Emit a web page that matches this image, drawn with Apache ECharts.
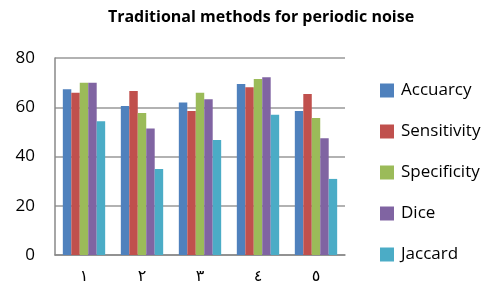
<!DOCTYPE html>
<html>
<head>
<meta charset="utf-8">
<script src="https://cdn.jsdelivr.net/npm/echarts@6/dist/echarts.min.js"></script>
<style>
  html, body { margin: 0; padding: 0; background: #fff; }
  #chart { width: 496px; height: 297px; }
</style>
</head>
<body>
<div id="chart"></div>
<script>
// data
const categories = ['١', '٢', '٣', '٤', '٥']
const seriesNames = ['Accuarcy', 'Sensitivity', 'Specificity', 'Dice', 'Jaccard']
const accuarcy = [67.3, 60.5, 61.9, 69.4, 58.5]
const sensitivity = [65.9, 66.6, 58.5, 68.1, 65.4]
const specificity = [70.0, 57.7, 65.9, 71.5, 55.6]
const dice = [70.0, 51.4, 63.2, 72.2, 47.4]
const jaccard = [54.3, 34.9, 46.7, 57.0, 30.9]
const yTicks = [0, 20, 40, 60, 80]

const colors = ['#4F81BD', '#C0504D', '#9BBB59', '#8064A2', '#4BACC6']
const values = [accuarcy, sensitivity, specificity, dice, jaccard]

const chart = echarts.init(document.getElementById('chart'))
chart.setOption({
  animation: false,
  color: colors,
  title: {
    text: 'Traditional methods for periodic noise',
    left: 256,
    top: 4,
    textAlign: 'center',
    textStyle: { fontFamily: 'Open Sans', fontSize: 16, fontWeight: 'bold', color: '#000' }
  },
  grid: { left: 55, right: 151, top: 58, bottom: 42 },
  legend: {
    orient: 'vertical',
    left: 375,
    top: 77,
    itemWidth: 14,
    itemHeight: 14,
    itemGap: 24,
    icon: 'rect',
    textStyle: { fontFamily: 'Open Sans', fontSize: 17, color: '#000', padding: [0, 0, 0, 2] },
    data: seriesNames
  },
  xAxis: {
    type: 'category',
    data: categories,
    axisLine: { lineStyle: { color: '#888', width: 1.5 } },
    axisTick: { show: false },
    axisLabel: { fontFamily: 'DejaVu Sans', fontSize: 16, color: '#000', margin: 14 }
  },
  yAxis: {
    type: 'value',
    min: yTicks[0],
    max: yTicks[yTicks.length - 1],
    interval: 20,
    axisLine: { show: true, lineStyle: { color: '#888', width: 1.5 } },
    axisTick: { show: false },
    splitLine: { lineStyle: { color: '#999', width: 1.5 } },
    axisLabel: { fontFamily: 'Open Sans', fontSize: 17, color: '#000', margin: 20 }
  },
  series: seriesNames.map((name, i) => ({
    name: name,
    type: 'bar',
    data: values[i],
    barGap: '0%',
    barCategoryGap: '27%',
    itemStyle: { color: colors[i] }
  }))
})
</script>
</body>
</html>
